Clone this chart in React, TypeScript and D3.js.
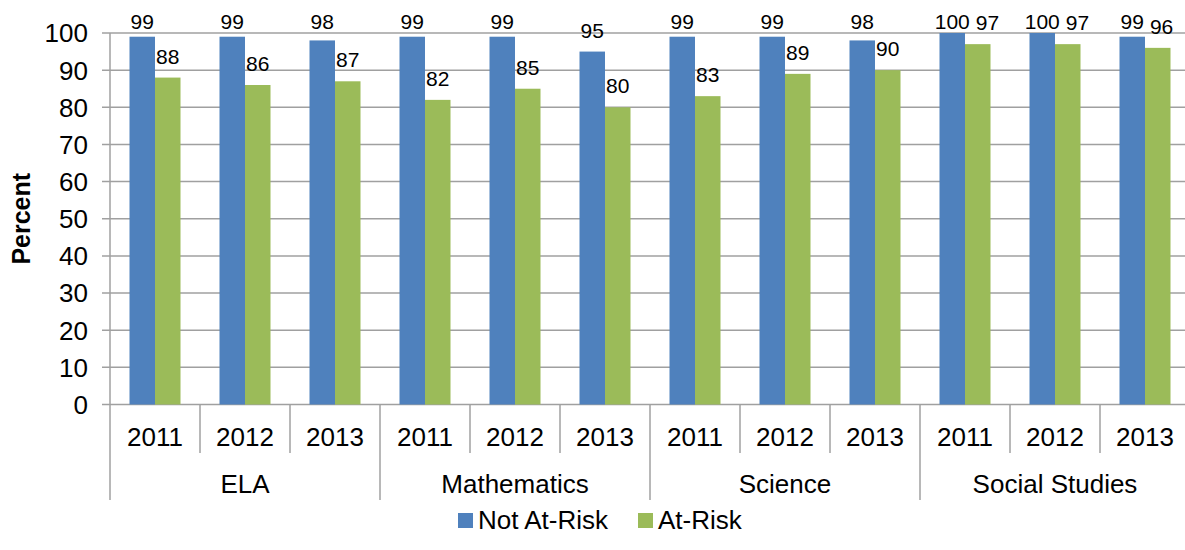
import { useEffect, useRef } from 'react'
import * as d3 from 'd3'

const subjects = ['ELA', 'Mathematics', 'Science', 'Social Studies']
const years = ['2011', '2012', '2013']
const seriesNames = ['Not At-Risk', 'At-Risk']
const notAtRisk = [99, 99, 98, 99, 99, 95, 99, 99, 98, 100, 100, 99]
const atRisk = [88, 86, 87, 82, 85, 80, 83, 89, 90, 97, 97, 96]
const yTicks = [0, 10, 20, 30, 40, 50, 60, 70, 80, 90, 100]

const colors = ['#4F81BD', '#9BBB59']
const font = 'Arial, "Liberation Sans", sans-serif'

export default function App() {
  const svgRef = useRef<SVGSVGElement>(null)
  const width = 1185
  const height = 550

  useEffect(() => {
    if (!svgRef.current) return
    const svg = d3.select(svgRef.current)
    svg.selectAll('*').remove()

    const left = 110, right = 1190, top = 33, bottom = 404.5
    const labelSize = 21

    const slots = subjects.flatMap(s => years.map(y => `${s}|${y}`))
    const x = d3.scaleBand<string>().domain(slots).range([left, right]).padding(0)
    const xs = d3.scaleBand<string>().domain(seriesNames).range([19.5, 70.5]).padding(0)
    const y = d3.scaleLinear().domain([0, 100]).range([bottom, top])

    // gridlines
    svg.append('g')
      .selectAll('line')
      .data(yTicks)
      .enter()
      .append('line')
      .attr('x1', left - 8)
      .attr('x2', right)
      .attr('y1', d => y(d))
      .attr('y2', d => y(d))
      .attr('stroke', '#A0A0A0')
      .attr('stroke-width', 1.5)

    // tick labels
    svg.append('g')
      .selectAll('text')
      .data(yTicks)
      .enter()
      .append('text')
      .attr('x', 88)
      .attr('y', d => y(d))
      .attr('dy', '0.36em')
      .attr('text-anchor', 'end')
      .style('font-family', font)
      .style('font-size', '26px')
      .attr('fill', '#000')
      .text(d => d)

    svg.append('text')
      .attr('transform', `translate(30, ${(top + bottom) / 2}) rotate(-90)`)
      .attr('text-anchor', 'middle')
      .style('font-family', font)
      .style('font-size', '25px')
      .style('font-weight', 'bold')
      .text('Percent')

    // bars
    const data = slots.map((k, i) => ({ key: k, values: [notAtRisk[i], atRisk[i]] }))
    const groups = svg.append('g')
      .selectAll('g')
      .data(data)
      .enter()
      .append('g')
      .attr('transform', d => `translate(${x(d.key)},0)`)

    groups.selectAll('rect')
      .data(d => d.values.map((v, j) => ({ v, j })))
      .enter()
      .append('rect')
      .attr('x', d => xs(seriesNames[d.j])!)
      .attr('width', xs.bandwidth())
      .attr('y', d => y(d.v))
      .attr('height', d => bottom - y(d.v))
      .attr('fill', d => colors[d.j])

    // value labels: kept under the top edge, pushed apart when they collide
    const textW = (v: number) => String(v).length * 0.556 * labelSize
    groups.each(function (d) {
      const g = d3.select(this)
      const pos = d.values.map((v, j) => ({
        v,
        cx: xs(seriesNames[j])! + xs.bandwidth() / 2,
        ty: Math.max(y(v) - 14, 29)
      }))
      const [a, b] = pos
      const minLeft = a.cx + textW(a.v) / 2 + 6
      if (Math.abs(a.ty - b.ty) < labelSize && b.cx - textW(b.v) / 2 < minLeft) {
        b.cx = minLeft + textW(b.v) / 2
      }
      pos.forEach(p => {
        g.append('text')
          .attr('x', p.cx)
          .attr('y', p.ty)
          .attr('text-anchor', 'middle')
          .style('font-family', font)
          .style('font-size', `${labelSize}px`)
          .attr('fill', '#000')
          .text(p.v)
      })
    })

    // axis line
    svg.append('line')
      .attr('x1', left).attr('x2', left)
      .attr('y1', top).attr('y2', 500)
      .attr('stroke', '#A0A0A0').attr('stroke-width', 1.5)

    // year dividers and labels
    slots.forEach((k, i) => {
      const x0 = x(k)!
      if (i > 0) {
        const groupEdge = i % 3 === 0
        svg.append('line')
          .attr('x1', x0).attr('x2', x0)
          .attr('y1', bottom).attr('y2', groupEdge ? 500 : 453)
          .attr('stroke', '#A0A0A0').attr('stroke-width', 1.5)
      }
      svg.append('text')
        .attr('x', x0 + x.bandwidth() / 2)
        .attr('y', 446)
        .attr('text-anchor', 'middle')
        .style('font-family', font)
        .style('font-size', '26px')
        .text(k.split('|')[1])
    })

    subjects.forEach(s => {
      const x0 = x(`${s}|${years[0]}`)!
      svg.append('text')
        .attr('x', x0 + (x.bandwidth() * 3) / 2)
        .attr('y', 493)
        .attr('text-anchor', 'middle')
        .style('font-family', font)
        .style('font-size', '26px')
        .text(s)
    })

    // legend
    const legendX = [458, 638]
    seriesNames.forEach((name, i) => {
      svg.append('rect')
        .attr('x', legendX[i])
        .attr('y', 513)
        .attr('width', 15)
        .attr('height', 15)
        .attr('fill', colors[i])
      svg.append('text')
        .attr('x', legendX[i] + 20)
        .attr('y', 529)
        .style('font-family', font)
        .style('font-size', '26px')
        .text(name)
    })
  }, [])

  return (
    <div style={{ position: 'absolute', left: 0, top: 0 }}>
      <svg ref={svgRef} width={width} height={height} style={{ display: 'block', background: '#fff' }} />
    </div>
  )
}
